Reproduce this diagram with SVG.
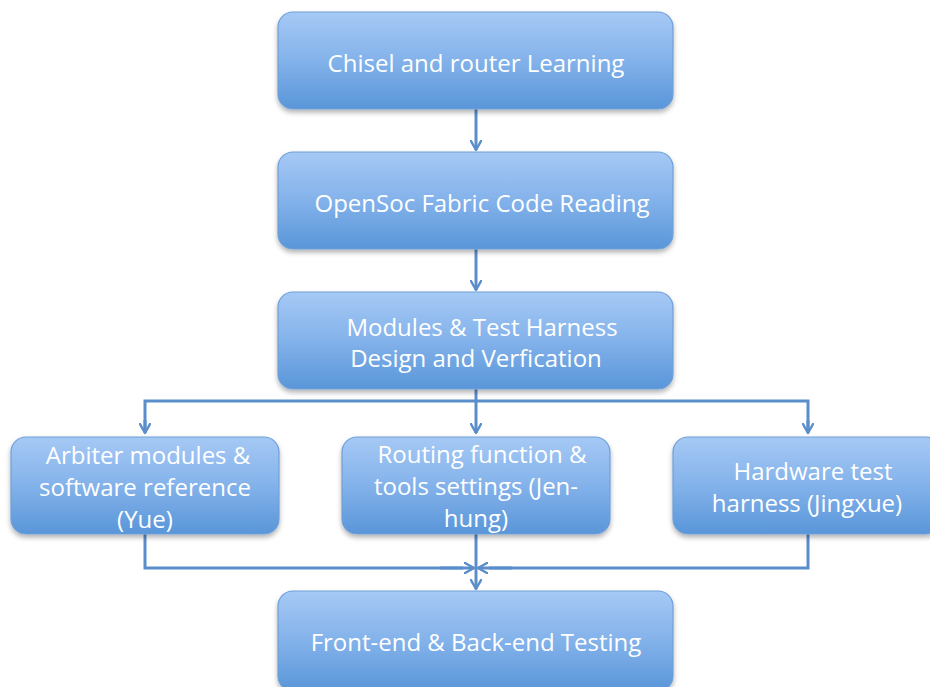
<svg xmlns="http://www.w3.org/2000/svg" width="930" height="687" viewBox="0 0 930 687">
  <defs>
    <linearGradient id="boxFill" x1="0" y1="0" x2="0" y2="1">
      <stop offset="0" stop-color="#a6c9f5"/>
      <stop offset="0.5" stop-color="#83b2ea"/>
      <stop offset="1" stop-color="#5996d9"/>
    </linearGradient>
    <filter id="shadow" x="-10%" y="-10%" width="120%" height="130%">
      <feDropShadow dx="0" dy="3" stdDeviation="2.5" flood-color="#000" flood-opacity="0.3"/>
    </filter>
    <marker id="arrow" viewBox="0 0 12 12" refX="10" refY="6" markerWidth="12" markerHeight="12" markerUnits="userSpaceOnUse" orient="auto">
      <path d="M1,1 L10,6 L1,11" fill="none" stroke="#5a8ecb" stroke-width="2.4" stroke-linecap="round" stroke-linejoin="round"/>
    </marker>
    <style>
      .box { fill: url(#boxFill); stroke: #6e9fd8; stroke-width: 1.2; filter: url(#shadow); }
      .label { font-family: "Open Sans", Lato, "Liberation Sans", sans-serif; font-size: 24px; fill: #ffffff; text-anchor: middle; }
      .wire { fill: none; stroke: #5a8ecb; stroke-width: 3; stroke-linejoin: miter; }
      .arr { marker-end: url(#arrow); }
    </style>
  </defs>

  <g id="connectors">
    <path class="wire arr" d="M476,109 V150"/>
    <path class="wire arr" d="M476,249 V290"/>
    <path class="wire" d="M476,389 V401"/>
    <path class="wire" d="M145,430 V401 H808 V430"/>
    <path class="wire arr" d="M145,420 V433"/>
    <path class="wire arr" d="M476,401 V433"/>
    <path class="wire arr" d="M808,420 V433"/>
    <path class="wire" d="M145,534 V568 H463"/>
    <path class="wire" d="M808,534 V568 H489"/>
    <path class="wire arr" d="M440,568 H474"/>
    <path class="wire arr" d="M512,568 H478"/>
    <path class="wire arr" d="M476,534 V589"/>
  </g>

  <g id="chisel-learning">
    <rect class="box" x="278" y="12" width="395" height="97" rx="15"/>
    <text class="label" x="476" y="72">Chisel and router Learning</text>
  </g>

  <g id="code-reading">
    <rect class="box" x="278" y="152" width="395" height="97" rx="15"/>
    <text class="label" x="482" y="212">OpenSoc Fabric Code Reading</text>
  </g>

  <g id="design-verification">
    <rect class="box" x="278" y="292" width="395" height="97" rx="15"/>
    <text class="label" x="482" y="336">Modules &amp; Test Harness</text>
    <text class="label" x="476" y="367">Design and Verfication</text>
  </g>

  <g id="arbiter">
    <rect class="box" x="11" y="437" width="268" height="97" rx="15"/>
    <text class="label" x="148" y="464">Arbiter modules &amp;</text>
    <text class="label" x="145" y="496">software reference</text>
    <text class="label" x="145" y="528">(Yue)</text>
  </g>

  <g id="routing">
    <rect class="box" x="342" y="437" width="268" height="97" rx="15"/>
    <text class="label" x="482" y="463">Routing function &amp;</text>
    <text class="label" x="476" y="495">tools settings (Jen-</text>
    <text class="label" x="476" y="527">hung)</text>
  </g>

  <g id="hardware-harness">
    <rect class="box" x="673" y="437" width="268" height="97" rx="15"/>
    <text class="label" x="813" y="480">Hardware test</text>
    <text class="label" x="807" y="512">harness (Jingxue)</text>
  </g>

  <g id="testing">
    <rect class="box" x="278" y="591" width="395" height="100" rx="15"/>
    <text class="label" x="476" y="651">Front-end &amp; Back-end Testing</text>
  </g>
</svg>
